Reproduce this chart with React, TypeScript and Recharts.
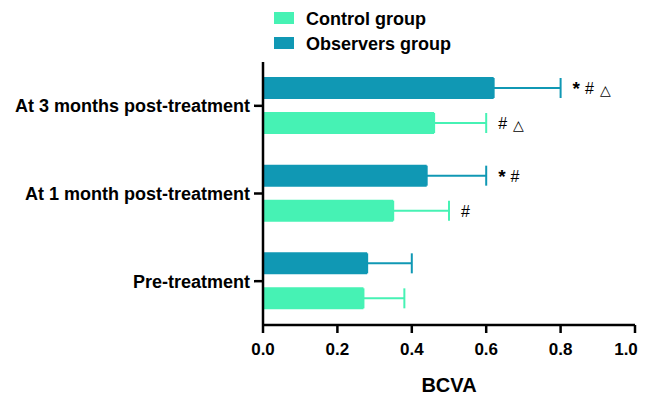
import React from 'react';
import { BarChart, Bar, XAxis, YAxis, ErrorBar, LabelList } from 'recharts';

const categories = ['At 3 months post-treatment', 'At 1 month post-treatment', 'Pre-treatment'];
const observersValues = [0.62, 0.44, 0.28];
const observersErrors = [0.18, 0.16, 0.12];
const controlValues = [0.46, 0.35, 0.27];
const controlErrors = [0.14, 0.15, 0.11];
const observersMarks = ['* # △', '* #', ''];
const controlMarks = ['# △', '#', ''];
const xTicks = [0, 0.2, 0.4, 0.6, 0.8, 1.0];
const legendItems = ['Control group', 'Observers group'];

const OBS_COLOR = '#1098B4';
const CON_COLOR = '#46F2B4';
const FONT = '"Liberation Sans", Arial, sans-serif';

const data = categories.map((c, i) => ({
  category: c,
  observers: observersValues[i],
  observersErr: [0, observersErrors[i]],
  control: controlValues[i],
  controlErr: [0, controlErrors[i]],
}));

const makeMarks = (marks: string[], values: number[], errors: number[]) => (props: any) => {
  const { x, y, width, height, index } = props;
  const m = marks[index];
  if (!m) return null;
  const v = values[index];
  const xe = Number(x) + (Number(width) * (v + errors[index])) / v;
  const parts = m.split(' ');
  return (
    <text x={xe + 12} y={Number(y) + Number(height) / 2} dominantBaseline="central" fill="#000" fontFamily={FONT} fontSize={16}>
      {parts.map((p, k) => (
        <tspan
          key={k}
          dx={k === 0 ? 0 : p === '△' ? 6 : 5}
          dy={p === '△' ? 2 : 0}
          fontWeight={p === '*' ? 'bold' : 'normal'}
          fontSize={p === '*' ? 19 : p === '△' ? 14 : 16}
          fontFamily={p === '△' ? '"DejaVu Sans", sans-serif' : FONT}
        >
          {p}
        </tspan>
      ))}
    </text>
  );
};

const renderXTick = (props: any) => {
  const { x, y, payload } = props;
  const isLast = payload.value === xTicks[xTicks.length - 1];
  return (
    <text x={x} y={y} dx={isLast ? -9 : 0} dy="0.71em" textAnchor="middle" fill="#000" fontSize={17} fontWeight="bold" fontFamily={FONT}>
      {Number(payload.value).toFixed(1)}
    </text>
  );
};

export default function App() {
  const colors = [CON_COLOR, OBS_COLOR];
  return (
    <div style={{ position: 'relative', width: 638, height: 389 }}>
      <style>{'html, body { overflow: hidden; }'}</style>
      {legendItems.map((name, i) => (
        <React.Fragment key={name}>
          <div style={{ position: 'absolute', left: 266, top: 4 + i * 25, width: 20, height: 12, background: colors[i] }} />
          <div
            style={{
              position: 'absolute',
              left: 298,
              top: 2 + i * 25,
              fontFamily: FONT,
              fontWeight: 'bold',
              fontSize: 18,
              lineHeight: '18px',
              whiteSpace: 'nowrap',
              color: '#000',
            }}
          >
            {name}
          </div>
        </React.Fragment>
      ))}
      <BarChart
        width={638}
        height={389}
        data={data}
        layout="vertical"
        margin={{ top: 54, right: 11, left: 0, bottom: 0 }}
        barSize={22}
        barGap={13}
        style={{ position: 'absolute', left: 0, top: 0 }}
      >
        <XAxis
          type="number"
          domain={[0, 1]}
          ticks={xTicks}
          height={72}
          tickSize={8}
          tickMargin={10}
          axisLine={{ stroke: '#000', strokeWidth: 2.5 }}
          tickLine={{ stroke: '#000', strokeWidth: 2.5 }}
          tick={renderXTick}
          label={{ value: 'BCVA', position: 'insideBottom', offset: 5, fill: '#000', fontSize: 20, fontWeight: 'bold', fontFamily: FONT }}
        />
        <YAxis
          type="category"
          dataKey="category"
          width={255}
          tickSize={9}
          tickMargin={4}
          axisLine={{ stroke: '#000', strokeWidth: 2.5 }}
          tickLine={{ stroke: '#000', strokeWidth: 2.5 }}
          tick={{ fill: '#000', fontSize: 18, fontWeight: 'bold', fontFamily: FONT }}
        />
        <Bar dataKey="observers" fill={OBS_COLOR} isAnimationActive={false}>
          <ErrorBar dataKey="observersErr" direction="x" width={10} stroke={OBS_COLOR} strokeWidth={2} />
          <LabelList dataKey="observers" content={makeMarks(observersMarks, observersValues, observersErrors)} />
        </Bar>
        <Bar dataKey="control" fill={CON_COLOR} isAnimationActive={false}>
          <ErrorBar dataKey="controlErr" direction="x" width={10} stroke={CON_COLOR} strokeWidth={2} />
          <LabelList dataKey="control" content={makeMarks(controlMarks, controlValues, controlErrors)} />
        </Bar>
      </BarChart>
    </div>
  );
}
